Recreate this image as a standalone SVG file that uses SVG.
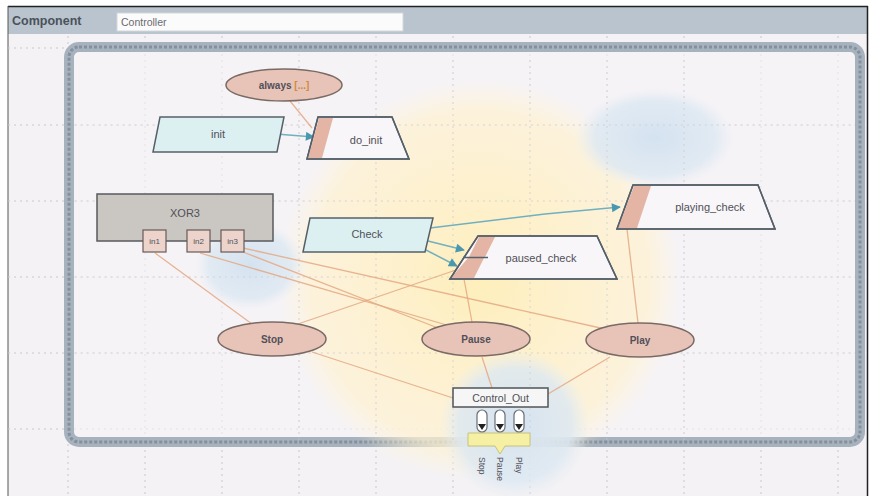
<svg xmlns="http://www.w3.org/2000/svg" width="877" height="496" viewBox="0 0 877 496">
<defs>
<style>
text{font-family:"Liberation Sans",Arial,sans-serif;fill:#505058;font-size:11px}
.lbl{text-anchor:middle;dominant-baseline:central}
.ell{fill:#e8c4b8;stroke:#7a6a66;stroke-width:1.5}
.para{fill:#dcf0f2;stroke:#55606a;stroke-width:1.5}
.trap{fill:#f8f6f8;stroke:#55606a;stroke-width:1.5}
.strip{fill:#e4b4a4;stroke:none}
.port{fill:#ecd4cc;stroke:#6a5a58;stroke-width:1.2}
.wire{stroke:#e4a882;stroke-width:1.3;fill:none;opacity:.85}
.flow{stroke:#70b0c0;stroke-width:1.5;fill:none;marker-end:url(#ah)}
.grid{stroke:#c8c8d0;stroke-width:1;stroke-dasharray:2 4;fill:none}
</style>
<marker id="ah" viewBox="0 0 10 10" refX="9" refY="5" markerWidth="8" markerHeight="6" orient="auto">
<path d="M0,0 L10,5 L0,10 z" fill="#4a98b0"/>
</marker>
<radialGradient id="gy" cx="0.5" cy="0.5" r="0.5">
<stop offset="0" stop-color="#ffeeb8" stop-opacity="0.95"/>
<stop offset="0.85" stop-color="#fff2d0" stop-opacity="0.7"/>
<stop offset="1" stop-color="#fff4d4" stop-opacity="0"/>
</radialGradient>
<radialGradient id="gb" cx="0.5" cy="0.5" r="0.5">
<stop offset="0" stop-color="#d4e2f0" stop-opacity="1"/>
<stop offset="0.75" stop-color="#dce8f2" stop-opacity="0.8"/>
<stop offset="1" stop-color="#e4ecf4" stop-opacity="0"/>
</radialGradient>
</defs>

<!-- page -->
<rect x="0" y="0" width="877" height="496" fill="#ffffff"/>
<rect x="8" y="6" width="860" height="490" fill="#f4f2f4"/>
<!-- header -->
<rect x="8" y="7" width="860" height="27" fill="#b9c4cf"/>
<text x="12" y="25" style="font-weight:bold;font-size:12.5px;fill:#4a525a">Component</text>
<rect x="117" y="13" width="286" height="18" fill="#fbfbfb" stroke="#d4d8dc"/>
<text x="121" y="26" style="font-size:10.5px;fill:#6a6a70">Controller</text>
<line x1="8" y1="6.5" x2="868" y2="6.5" stroke="#222" stroke-width="1.5"/>
<line x1="8" y1="6" x2="8" y2="496" stroke="#555" stroke-width="1"/>
<line x1="867.5" y1="6" x2="867.5" y2="496" stroke="#222" stroke-width="1.5"/>

<!-- grid -->
<g class="grid">
<path d="M68,36V496M145,36V496M222,36V496M299,36V496M376,36V496M453,36V496M530,36V496M607,36V496M684,36V496M761,36V496M838,36V496"/>
<path d="M8,48H867M8,125H867M8,201H867M8,277H867M8,353H867M8,429H867"/>
</g>

<!-- container frame -->
<g id="frame">
<rect x="69" y="47" width="791" height="395" rx="10" fill="#f6f4f6" fill-opacity="0.6" stroke="#a6b2be" stroke-width="10"/>
<rect x="69" y="47" width="791" height="395" rx="10" fill="none" stroke="#86909c" stroke-width="3" stroke-dasharray="3 2"/>
</g>

<!-- background blobs -->
<g>
<circle cx="480" cy="280" r="200" fill="url(#gy)"/>
<ellipse cx="655" cy="138" rx="80" ry="50" fill="url(#gb)"/>
<circle cx="515" cy="425" r="75" fill="url(#gb)"/>
<ellipse cx="250" cy="265" rx="55" ry="45" fill="url(#gb)"/>
</g>
<!-- grid again faintly over blobs -->
<g class="grid" opacity="0.6">
<path d="M299,60V440M376,60V440M453,60V440M530,60V440M607,60V440M684,60V440"/>
<path d="M75,125H855M75,201H855M75,277H855M75,353H855"/>
</g>

<!-- connectors -->
<g id="connectors">
<line class="wire" x1="290" y1="101" x2="312" y2="128"/>
<line class="wire" x1="155" y1="253" x2="252" y2="324"/>
<line class="wire" x1="200" y1="253" x2="450" y2="326"/>
<line class="wire" x1="243" y1="248" x2="605" y2="329"/>
<line class="wire" x1="243" y1="252" x2="438" y2="328"/>
<line class="wire" x1="295" y1="325" x2="456" y2="270"/>
<line class="wire" x1="464" y1="279" x2="472" y2="322"/>
<line class="wire" x1="627" y1="229" x2="638" y2="323"/>
<line class="wire" x1="312" y1="352" x2="453" y2="398"/>
<line class="wire" x1="482" y1="357" x2="492" y2="388"/>
<line class="wire" x1="610" y1="357" x2="548" y2="394"/>
<line class="flow" x1="276" y1="134" x2="314" y2="137"/>
<polyline class="flow" points="430,228 545,214 620,207"/>
<line class="flow" x1="428" y1="241" x2="464" y2="250"/>
<line class="flow" x1="426" y1="250" x2="457" y2="266"/>
</g>

<!-- nodes -->
<g id="always">
<ellipse class="ell" cx="284" cy="85" rx="58" ry="16"/>
<text x="284" y="85" class="lbl" style="font-size:10px;font-weight:bold"><tspan fill="#505058">always </tspan><tspan fill="#d08a40">[...]</tspan></text>
</g>

<g id="init">
<polygon class="para" points="160,117 284,117 277,152 153,152"/>
<text x="218" y="134" class="lbl">init</text>
</g>

<g id="do_init">
<polygon class="trap" points="318,117 392,117 409,159 307,159"/>
<polygon class="strip" points="319,118 333,118 322,158 308,158"/>
<polygon points="318,117 392,117 409,159 307,159" fill="none" stroke="#55606a" stroke-width="1.5"/>
<text x="366" y="140" class="lbl">do_init</text>
</g>

<g id="xor3">
<rect x="97" y="194" width="176" height="47" fill="#cac6c2" stroke="#5a5a5e" stroke-width="1.5"/>
<text x="185" y="213" class="lbl">XOR3</text>
<g id="in1"><rect class="port" x="143" y="230" width="23" height="22"/><text x="154.5" y="241" class="lbl" style="font-size:8px">in1</text></g>
<g id="in2"><rect class="port" x="187" y="230" width="23" height="22"/><text x="198.5" y="241" class="lbl" style="font-size:8px">in2</text></g>
<g id="in3"><rect class="port" x="221" y="230" width="23" height="22"/><text x="232.5" y="241" class="lbl" style="font-size:8px">in3</text></g>
</g>

<g id="check">
<polygon class="para" points="310,218 433,218 425,252 303,252"/>
<text x="367" y="234" class="lbl">Check</text>
</g>

<g id="playing_check">
<polygon class="trap" points="633,185 758,185 775,229 617,229"/>
<polygon class="strip" points="634,186 651,186 637,228 618,228"/>
<polygon points="633,185 758,185 775,229 617,229" fill="none" stroke="#55606a" stroke-width="1.5"/>
<text x="710" y="207" class="lbl">playing_check</text>
</g>

<g id="paused_check">
<polygon class="trap" points="478,236 597,236 617,279 450,279"/>
<polygon class="strip" points="479,237 495,237 485,257 469,257"/>
<polygon class="strip" points="468,258 484,258 474,278 451,278"/>
<line x1="463" y1="257.5" x2="488" y2="257.5" stroke="#55606a" stroke-width="1.5"/>
<polygon points="478,236 597,236 617,279 450,279" fill="none" stroke="#55606a" stroke-width="1.5"/>
<text x="541" y="258" class="lbl">paused_check</text>
</g>

<g id="stop">
<ellipse class="ell" cx="272" cy="339" rx="54" ry="17"/>
<text x="272" y="339" class="lbl" style="font-size:10px;font-weight:bold">Stop</text>
</g>
<g id="pause">
<ellipse class="ell" cx="476" cy="339" rx="54" ry="17"/>
<text x="476" y="339" class="lbl" style="font-size:10px;font-weight:bold">Pause</text>
</g>
<g id="play">
<ellipse class="ell" cx="640" cy="340" rx="54" ry="17"/>
<text x="640" y="340" class="lbl" style="font-size:10px;font-weight:bold">Play</text>
</g>

<g id="control_out">
<rect x="453" y="388" width="95" height="19" fill="#f6f6f6" stroke="#505458" stroke-width="1.5"/>
<text x="500.5" y="398" class="lbl" style="font-size:10.5px">Control_Out</text>
<polygon points="468,433 530,433 530,446 505,446 500,454 495,446 468,446" fill="#f6f0a4" stroke="#c8c27a"/>
<g fill="#ffffff" stroke="#6a6e72" stroke-width="1.2">
<rect x="477" y="410" width="10" height="22" rx="5"/>
<rect x="495" y="410" width="10" height="22" rx="5"/>
<rect x="514" y="410" width="10" height="22" rx="5"/>
</g>
<g fill="#222">
<polygon points="478,424 486,424 482,430"/>
<polygon points="496,424 504,424 500,430"/>
<polygon points="515,424 523,424 519,430"/>
</g>
<text transform="translate(479,457) rotate(90)" style="font-size:8.5px">Stop</text>
<text transform="translate(497,457) rotate(90)" style="font-size:8.5px">Pause</text>
<text transform="translate(516,457) rotate(90)" style="font-size:8.5px">Play</text>
</g>
</svg>
